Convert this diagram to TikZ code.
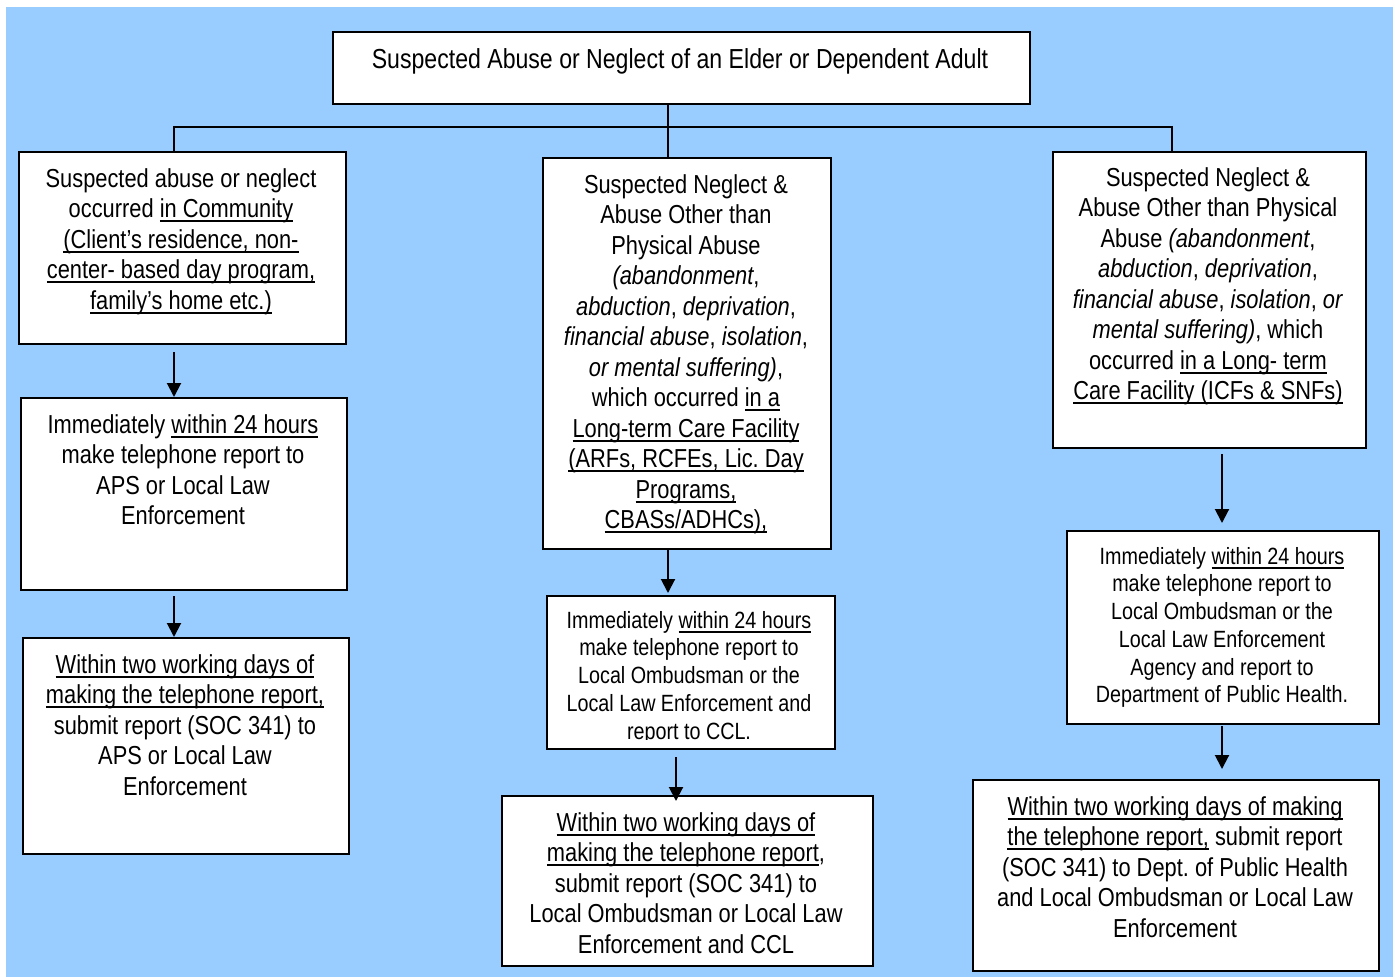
\documentclass[tikz,border=0pt]{standalone}
\usepackage{fontspec}
\setmainfont{Liberation Sans}[FakeStretch=0.84]
\usetikzlibrary{arrows.meta}
\definecolor{bgblue}{HTML}{99CCFF}
\frenchspacing
\newcommand\ulx[1]{\leavevmode\setbox0\hbox{#1}\rlap{\vrule height -2.6pt depth 4.8pt width \wd0}\box0\relax}
\tikzset{
  box/.style={draw=black, line width=2pt, fill=white, inner sep=0pt, anchor=north west},
  txt/.style={align=center, inner sep=0pt, anchor=north, font=\fontsize{26}{30.5}\selectfont},
  txts/.style={align=center, inner sep=0pt, anchor=north, font=\fontsize{23.5}{27.7}\selectfont},
  conn/.style={draw=black, line width=2pt},
  arr/.style={draw=black, line width=2pt, -{Triangle[width=14pt,length=14pt]}}
}
\begin{document}
\begin{tikzpicture}[x=1pt,y=-1pt]
\useasboundingbox (0,0) rectangle (1395,977);
\fill[white] (0,0) rectangle (1395,977);
\fill[bgblue] (6,7) rectangle (1393,977);

% boxes
\node[box, minimum width=697pt, minimum height=72pt] (top) at (332,31) {};
\node[box, minimum width=327pt, minimum height=192pt] (L1) at (18,151) {};
\node[box, minimum width=326pt, minimum height=192pt] (L2) at (20,397) {};
\node[box, minimum width=326pt, minimum height=216pt] (L3) at (22,637) {};
\node[box, minimum width=288pt, minimum height=391pt] (M1) at (542,157) {};
\node[box, minimum width=288pt, minimum height=153pt] (M2) at (546,595) {};
\node[box, minimum width=371pt, minimum height=170pt] (M3) at (501,795) {};
\node[box, minimum width=313pt, minimum height=296pt] (R1) at (1052,151) {};
\node[box, minimum width=312pt, minimum height=193pt] (R2) at (1066,530) {};
\node[box, minimum width=406pt, minimum height=191pt] (R3) at (972,779) {};

% connector from top
\coordinate (xL) at (174,0);
\coordinate (xM) at (668,0);
\coordinate (xM2) at (676,0);
\coordinate (xR) at (1172,0);
\coordinate (xR2) at (1222,0);
\coordinate (jy) at (0,127);
\draw[conn] (xM |- top.south) -- (xM |- jy);
\draw[conn] (xL |- L1.north) -- (xL |- jy) -- (xR |- jy) -- (xR |- R1.north);
\draw[conn] (xM |- jy) -- (xM |- M1.north);

% arrows
\draw[arr] ([yshift=-7pt]xL |- L1.south) -- (xL |- L2.north);
\draw[arr] ([yshift=-5pt]xL |- L2.south) -- (xL |- L3.north);
\draw[arr] (xM |- M1.south) -- ([yshift=2pt]xM |- M2.north);
\draw[arr] ([yshift=-7pt]xM2 |- M2.south) -- ([yshift=-6pt]xM2 |- M3.north);
\draw[arr] ([yshift=-5pt]xR2 |- R1.south) -- ([yshift=7pt]xR2 |- R2.north);
\draw[arr] ([yshift=-1pt]xR2 |- R2.south) -- ([yshift=10pt]xR2 |- R3.north);

% texts
\node[txt, font=\fontsize{27.5}{32}\selectfont] (ttop) at (680,48) {Suspected Abuse or Neglect of an Elder or Dependent Adult};

\node[txt] (tL1) at (181,168) {Suspected abuse or neglect\\
occurred \ulx{in Community}\\
\ulx{(Client’s residence, non-}\\
\ulx{center- based day program,}\\
\ulx{family’s home etc.)}};

\node[txt] (tL2) at (183,414) {Immediately \ulx{within 24 hours}\\
make telephone report to\\
APS or Local Law\\
Enforcement};

\node[txt] (tL3) at (185,654) {\ulx{Within two working days of}\\
\ulx{making the telephone report,}\\
submit report (SOC 341) to\\
APS or Local Law\\
Enforcement};

\node[txt] (tM1) at (686,174) {Suspected Neglect \&\\
Abuse Other than\\
Physical Abuse\\
\textit{(abandonment},\\
\textit{abduction}, \textit{deprivation},\\
\textit{financial abuse}, \textit{isolation},\\
\textit{or mental suffering)},\\
which occurred \ulx{in a}\\
\ulx{Long-term Care Facility}\\
\ulx{(ARFs, RCFEs, Lic. Day}\\
\ulx{Programs,}\\
\ulx{CBASs/ADHCs),}};

\begin{scope}
\clip ([yshift=-1pt]M2.north west) rectangle ([yshift=11pt]M2.south east);
\node[txts] (tM2) at (689,611) {Immediately \ulx{within 24 hours}\\
make telephone report to\\
Local Ombudsman or the\\
Local Law Enforcement and\\
report to CCL.};
\end{scope}

\node[txt] (tM3) at (686,812) {\ulx{Within two working days of}\\
\ulx{making the telephone report},\\
submit report (SOC 341) to\\
Local Ombudsman or Local Law\\
Enforcement and CCL};

\node[txt] (tR1) at (1208,167) {Suspected Neglect \&\\
Abuse Other than Physical\\
Abuse \textit{(abandonment},\\
\textit{abduction}, \textit{deprivation},\\
\textit{financial abuse}, \textit{isolation}, \textit{or}\\
\textit{mental suffering)}, which\\
occurred \ulx{in a Long- term}\\
\ulx{Care Facility (ICFs \& SNFs)}};

\node[txts] (tR2) at (1222,547) {Immediately \ulx{within 24 hours}\\
make telephone report to\\
Local Ombudsman or the\\
Local Law Enforcement\\
Agency and report to\\
Department of Public Health.};

\node[txt] (tR3) at (1175,796) {\ulx{Within two working days of making}\\
\ulx{the telephone report,} submit report\\
(SOC 341) to Dept. of Public Health\\
and Local Ombudsman or Local Law\\
Enforcement};
\end{tikzpicture}
\end{document}
